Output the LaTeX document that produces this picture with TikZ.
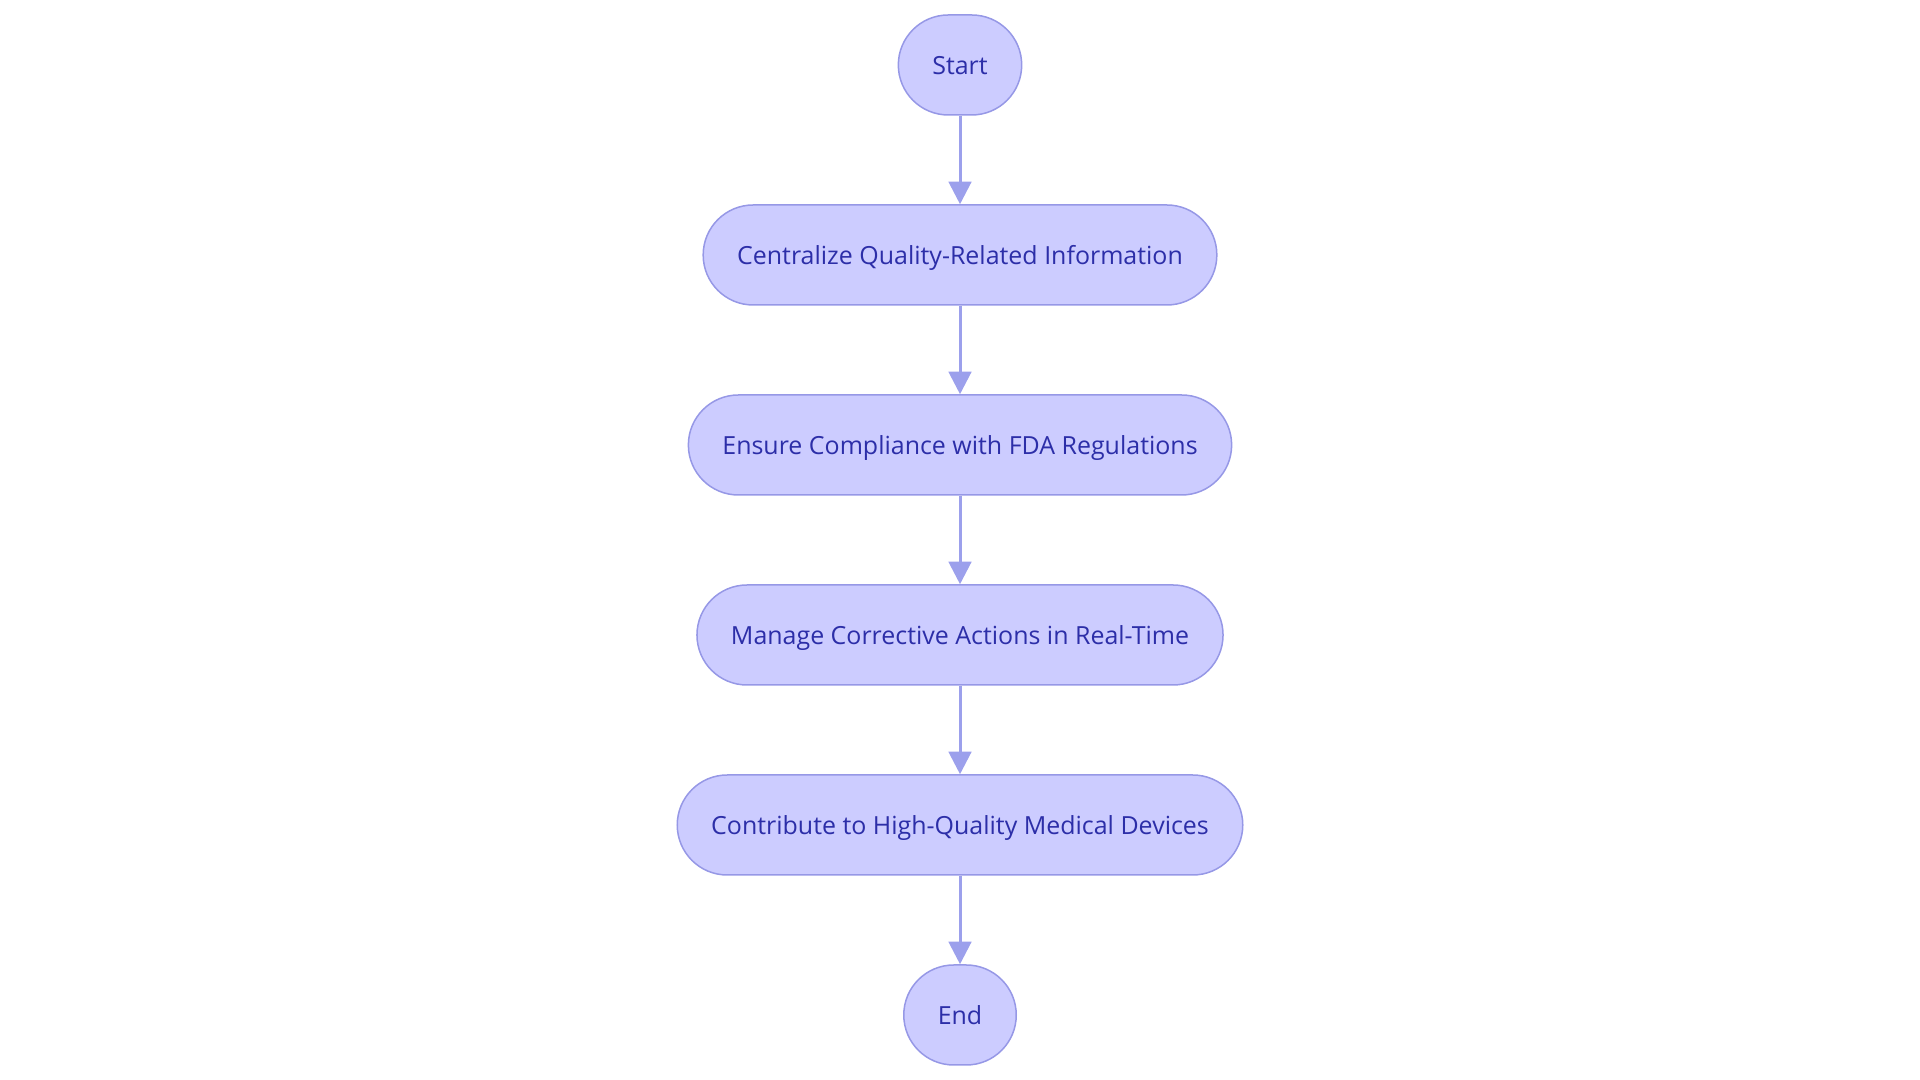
\documentclass[tikz,border=0pt]{standalone}
\usepackage{fontspec}
\setmainfont{Open Sans}
\usetikzlibrary{arrows.meta}
\definecolor{boxfill}{RGB}{204,204,255}
\definecolor{boxline}{RGB}{150,152,230}
\definecolor{boxtext}{RGB}{44,46,168}
\definecolor{arrowline}{RGB}{156,160,236}

\begin{document}
\begin{tikzpicture}[
    box/.style={draw=boxline, fill=boxfill, text=boxtext, line width=0.03cm,
        rounded corners=1cm, minimum height=2cm, inner xsep=0.68cm, text depth=0pt,
        font=\fontsize{14.2}{16}\selectfont}
]
    \useasboundingbox (0,0) rectangle (38.4,21.6);

    \node[box] (1) at (19.2,20.3) {Start};
    \node[box] (2) at (19.2,16.5) {Centralize Quality-Related Information};
    \node[box] (3) at (19.2,12.7) {Ensure Compliance with FDA Regulations};
    \node[box] (4) at (19.2,8.9) {Manage Corrective Actions in Real-Time};
    \node[box] (5) at (19.2,5.1) {Contribute to High-Quality Medical Devices};
    \node[box] (6) at (19.2,1.3) {End};

    \path
    (1) [-{Triangle[length=0.45cm,width=0.45cm]}, arrowline, line width=0.06cm] edge (2)
    (2) [-{Triangle[length=0.45cm,width=0.45cm]}, arrowline, line width=0.06cm] edge (3)
    (3) [-{Triangle[length=0.45cm,width=0.45cm]}, arrowline, line width=0.06cm] edge (4)
    (4) [-{Triangle[length=0.45cm,width=0.45cm]}, arrowline, line width=0.06cm] edge (5)
    (5) [-{Triangle[length=0.45cm,width=0.45cm]}, arrowline, line width=0.06cm] edge (6);
\end{tikzpicture}
\end{document}
